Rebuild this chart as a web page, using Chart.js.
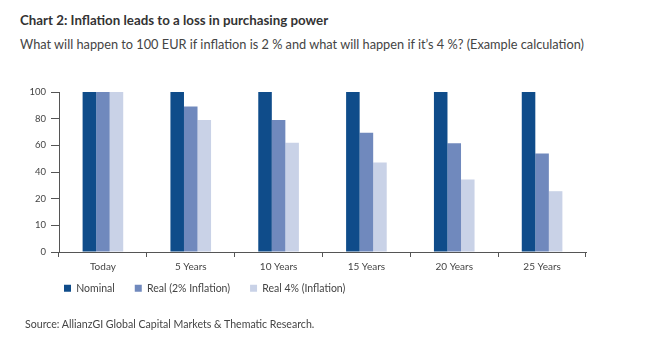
<!DOCTYPE html>
<html>
<head>
<meta charset="utf-8">
<script src="https://cdn.jsdelivr.net/npm/chart.js@4/dist/chart.umd.min.js"></script>
<style>
  html, body { margin: 0; padding: 0; background: #fff; }
  #wrap { position: relative; width: 653px; height: 346px; overflow: hidden; font-family: Lato, "Open Sans", sans-serif; }
  #chart { position: absolute; left: 0; top: 0; }
  .txt { position: absolute; white-space: nowrap; }
  #title { left: 20px; top: 12px; font-size: 13.3px; font-weight: 700; color: #333; }
  #subtitle { left: 20px; top: 36px; font-size: 12.75px; color: #444; }
  #source { left: 25px; top: 318px; font-size: 10.6px; color: #444; }
</style>
</head>
<body>
<div id="wrap">
  <div class="txt" id="title">Chart 2: Inflation leads to a loss in purchasing power</div>
  <div class="txt" id="subtitle">What will happen to 100 EUR if inflation is 2 % and what will happen if it’s 4 %? (Example calculation)</div>
  <canvas id="chart" width="653" height="346"></canvas>
  <div class="txt" id="source">Source: AllianzGI Global Capital Markets &amp; Thematic Research.</div>
</div>
<script>
const categories = ["Today", "5 Years", "10 Years", "15 Years", "20 Years", "25 Years"];
const nominal = [100, 100, 100, 100, 100, 100];
const real2 = [100, 91, 82.5, 74.5, 68, 61.5];
const real4 = [100, 82.5, 68.3, 56, 45.3, 38];
const yTickLabels = ["0", "10", "20", "40", "60", "80", "100"];
const seriesNames = ["Nominal", "Real (2% Inflation)", "Real 4% (Inflation)"];

const axisColor = "#555";
const textColor = "#444";
const fontFam = "Lato, 'Open Sans', sans-serif";

// shift the legend so it starts under the plot area, as in the reference
const legendShift = {
  id: "legendShift",
  afterLayout(chart) {
    const lg = chart.legend;
    if (!lg) return;
    lg.left += 25; lg.right += 25;
    lg.top -= 11; lg.bottom -= 11;
  }
};

new Chart(document.getElementById("chart"), {
  type: "bar",
  data: {
    labels: categories,
    datasets: [
      { label: seriesNames[0], data: nominal, backgroundColor: "#0f4c8a" },
      { label: seriesNames[1], data: real2, backgroundColor: "#7089bd" },
      { label: seriesNames[2], data: real4, backgroundColor: "#c9d2e7" }
    ]
  },
  plugins: [legendShift],
  options: {
    responsive: false,
    animation: false,
    devicePixelRatio: 1,
    layout: { padding: { left: 19, right: 67, top: 92, bottom: 31.5 } },
    datasets: { bar: { categoryPercentage: 0.4625, barPercentage: 1, borderWidth: 0 } },
    plugins: {
      tooltip: { enabled: false },
      title: { display: false },
      legend: {
        display: true,
        position: "bottom",
        align: "start",
        labels: {
          boxWidth: 7, boxHeight: 7, padding: 20,
          color: textColor,
          font: { family: fontFam, size: 10.5 }
        }
      }
    },
    scales: {
      x: {
        afterFit: s => { s.height = 22; },
        grid: { offset: true, drawOnChartArea: false, drawTicks: true, tickLength: 5, color: axisColor, lineWidth: 1 },
        border: { display: true, color: axisColor, width: 1 },
        ticks: { color: textColor, padding: 4, font: { family: fontFam, size: 10 } }
      },
      y: {
        min: 0, max: 100,
        afterFit: s => { s.width = 40; },
        grid: { drawOnChartArea: false, drawTicks: true, tickLength: 8, color: axisColor, lineWidth: 1 },
        border: { display: true, color: axisColor, width: 1 },
        ticks: {
          count: 7,
          padding: 5,
          color: textColor,
          font: { family: fontFam, size: 9.5 },
          callback: (v, i) => yTickLabels[i]
        }
      }
    }
  }
});
</script>
</body>
</html>
